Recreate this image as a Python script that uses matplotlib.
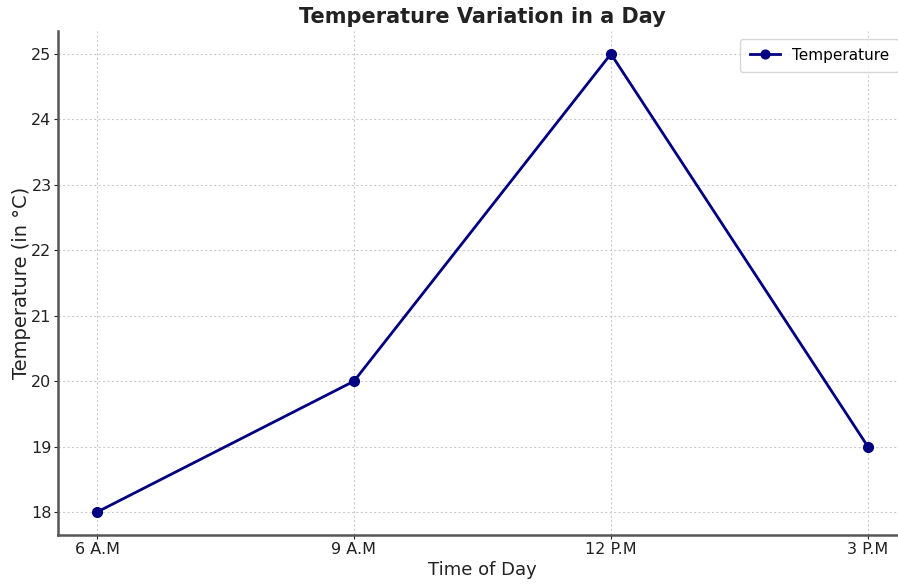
import numpy as np
import matplotlib.pyplot as plt

times = ["6 A.M", "9 A.M", "12 P.M", "3 P.M"]
temps = [18, 20, 25, 19]

fig = plt.figure(figsize=(8.98, 5.85), dpi=100)
# axes run past the right edge, as in the reference (cropped picture)
ax = fig.add_axes([0.0651, 0.0855, 0.9443, 0.8615])

ax.plot(times, temps, color="#000080", marker="o", markersize=7,
        linewidth=2, label="Temperature")

ax.set_title("Temperature Variation in a Day", fontsize=15, fontweight="bold",
             color="#222222", pad=6)
ax.set_xlabel("Time of Day", fontsize=13, color="#222222", labelpad=3)
ax.set_ylabel("Temperature (in °C)", fontsize=14, color="#222222", labelpad=0)
ax.tick_params(labelsize=11.5, colors="#222222", length=3, pad=2)

ax.grid(True, linestyle=(0, (2, 2)), color="#cccccc", linewidth=0.8)
ax.spines["top"].set_visible(False)
ax.spines["right"].set_visible(False)
for s in ["left", "bottom"]:
    ax.spines[s].set_color("#555555")
    ax.spines[s].set_linewidth(1.8)

ax.legend(loc="upper right", fontsize=11, frameon=True, edgecolor="#cccccc",
          borderpad=0.6, markerscale=0.9)

fig.savefig("out.png", dpi=100)
